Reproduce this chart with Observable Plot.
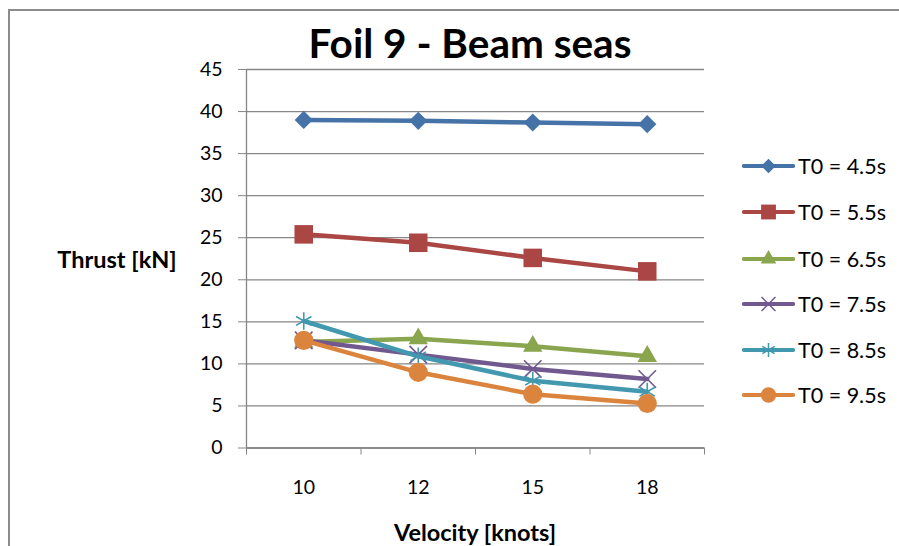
<!DOCTYPE html>
<html><head><meta charset="utf-8">
<script src="https://cdn.jsdelivr.net/npm/d3@7"></script>
<script src="https://cdn.jsdelivr.net/npm/@observablehq/plot@0.6"></script>
<style>
html,body{margin:0;padding:0;background:#fff;}
#wrap{position:relative;width:899px;height:546px;overflow:hidden;font-family:Lato,"Open Sans",sans-serif;color:#000;}
#frame{position:absolute;left:8px;top:9px;width:2000px;height:2000px;border-left:2px solid #8c8c8c;border-top:2px solid #8c8c8c;box-sizing:border-box;}
#chart{position:absolute;left:0;top:0;}
.lbl{position:absolute;white-space:nowrap;transform:translate(-50%,-50%);font-weight:700;}
#legend{position:absolute;left:742px;top:0;}
.row{position:absolute;left:0;height:30px;display:flex;align-items:center;white-space:nowrap;font-size:21.5px;}
.row svg{display:block;margin-right:3px;}
</style>
</head><body>
<div id="wrap">
  <div id="frame"></div>
  <div id="chart"></div>
  <div class="lbl" id="title" style="left:470px;top:42px;font-size:40.5px;">Foil 9 - Beam seas</div>
  <div class="lbl" id="ylab" style="left:117px;top:259px;font-size:23.5px;">Thrust [kN]</div>
  <div class="lbl" id="xlab" style="left:475px;top:532px;font-size:23.5px;">Velocity [knots]</div>
  <div id="legend"></div>
</div>
<script>
// ---- data ----
const velocities = ["10", "12", "15", "18"];
const seriesNames = ["T0 = 4.5s", "T0 = 5.5s", "T0 = 6.5s", "T0 = 7.5s", "T0 = 8.5s", "T0 = 9.5s"];
const t45 = [39.0, 38.9, 38.7, 38.5];
const t55 = [25.4, 24.4, 22.6, 21.0];
const t65 = [12.6, 13.0, 12.1, 10.9];
const t75 = [12.8, 11.1, 9.4, 8.2];
const t85 = [15.1, 10.9, 8.0, 6.7];
const t95 = [12.8, 9.0, 6.4, 5.3];
const yTicks = [0, 5, 10, 15, 20, 25, 30, 35, 40, 45];

// ---- styles ----
const colors = ["#4572A7", "#AA4643", "#89A54E", "#71588F", "#4198AF", "#DB843D"];
const symbols = ["diamond2", "square2", "triangle2", "times", "asterisk", "circle"];
const d3symbols = [d3.symbolDiamond2, d3.symbolSquare2, d3.symbolTriangle2, d3.symbolTimes, d3.symbolAsterisk, d3.symbolCircle];
const filled = [true, true, true, false, false, true];
const radii = [8.2, 11.8, 9.3, 8.0, 8.4, 9.6];

const values = [t45, t55, t65, t75, t85, t95];
const rows = seriesNames.flatMap((s, k) => velocities.map((v, i) => ({series: s, k, velocity: v, xi: i + 0.5, thrust: values[k][i]})));

const grey = "#868686";
const marks = [
  Plot.gridY(yTicks, {stroke: grey, strokeOpacity: 1, strokeWidth: 1.3}),
  Plot.axisY({ticks: yTicks, tickSize: 8, tickPadding: 16, stroke: grey, fill: "#000", fontSize: 19.5, label: null}),
  Plot.axisX({ticks: velocities.map((v, i) => i + 0.5), tickFormat: (d) => velocities[Math.round(d - 0.5)], tickSize: 0, tickPadding: 32, fill: "#000", fontSize: 19.5, label: null}),
  Plot.axisX({ticks: d3.range(velocities.length + 1), tickFormat: () => "", tickSize: 7, stroke: grey, label: null}),
  Plot.ruleX([0], {stroke: grey, strokeWidth: 1.3}),
  Plot.ruleY([0], {stroke: grey, strokeWidth: 1.3})
];
seriesNames.forEach((s, k) => {
  const d = rows.filter(r => r.k === k);
  marks.push(Plot.line(d, {x: "xi", y: "thrust", stroke: colors[k], strokeWidth: 4.5, strokeLinejoin: "round", strokeLinecap: "round"}));
  marks.push(Plot.dot(d, filled[k]
    ? {x: "xi", y: "thrust", symbol: () => symbols[k], r: radii[k], fill: colors[k], stroke: "none"}
    : {x: "xi", y: "thrust", symbol: () => symbols[k], r: radii[k], fill: "none", stroke: colors[k], strokeWidth: 1.6}));
});

const chart = Plot.plot({
  width: 899, height: 546,
  marginLeft: 246, marginRight: 195, marginTop: 69, marginBottom: 98.5,
  style: {fontFamily: "Lato, 'Open Sans', sans-serif", fontSize: "19.5px", color: "#000", background: "transparent"},
  x: {type: "linear", domain: [0, velocities.length], axis: null, label: null},
  y: {domain: [0, 45], axis: null, label: null},
  symbol: {type: "identity"},
  marks
});
document.getElementById("chart").appendChild(chart);

// ---- legend ----
const legend = document.getElementById("legend");
const rowTops = [166, 212, 258.5, 304, 350, 394.5];
seriesNames.forEach((s, k) => {
  const row = document.createElement("div");
  row.className = "row";
  row.style.top = (rowTops[k] - 15) + "px";
  const svg = d3.create("svg").attr("width", 53).attr("height", 30);
  svg.append("line").attr("x1", 2).attr("x2", 51).attr("y1", 15).attr("y2", 15)
    .attr("stroke", colors[k]).attr("stroke-width", 4.2).attr("stroke-linecap", "round");
  const r = radii[k] * 0.8;
  svg.append("path").attr("transform", "translate(26.5,15)")
    .attr("d", d3.symbol(d3symbols[k], r * r * Math.PI)())
    .attr("fill", filled[k] ? colors[k] : "none")
    .attr("stroke", filled[k] ? "none" : colors[k]).attr("stroke-width", 1.5);
  row.appendChild(svg.node());
  const span = document.createElement("span");
  span.textContent = s;
  row.appendChild(span);
  legend.appendChild(row);
});
</script>
</body></html>
